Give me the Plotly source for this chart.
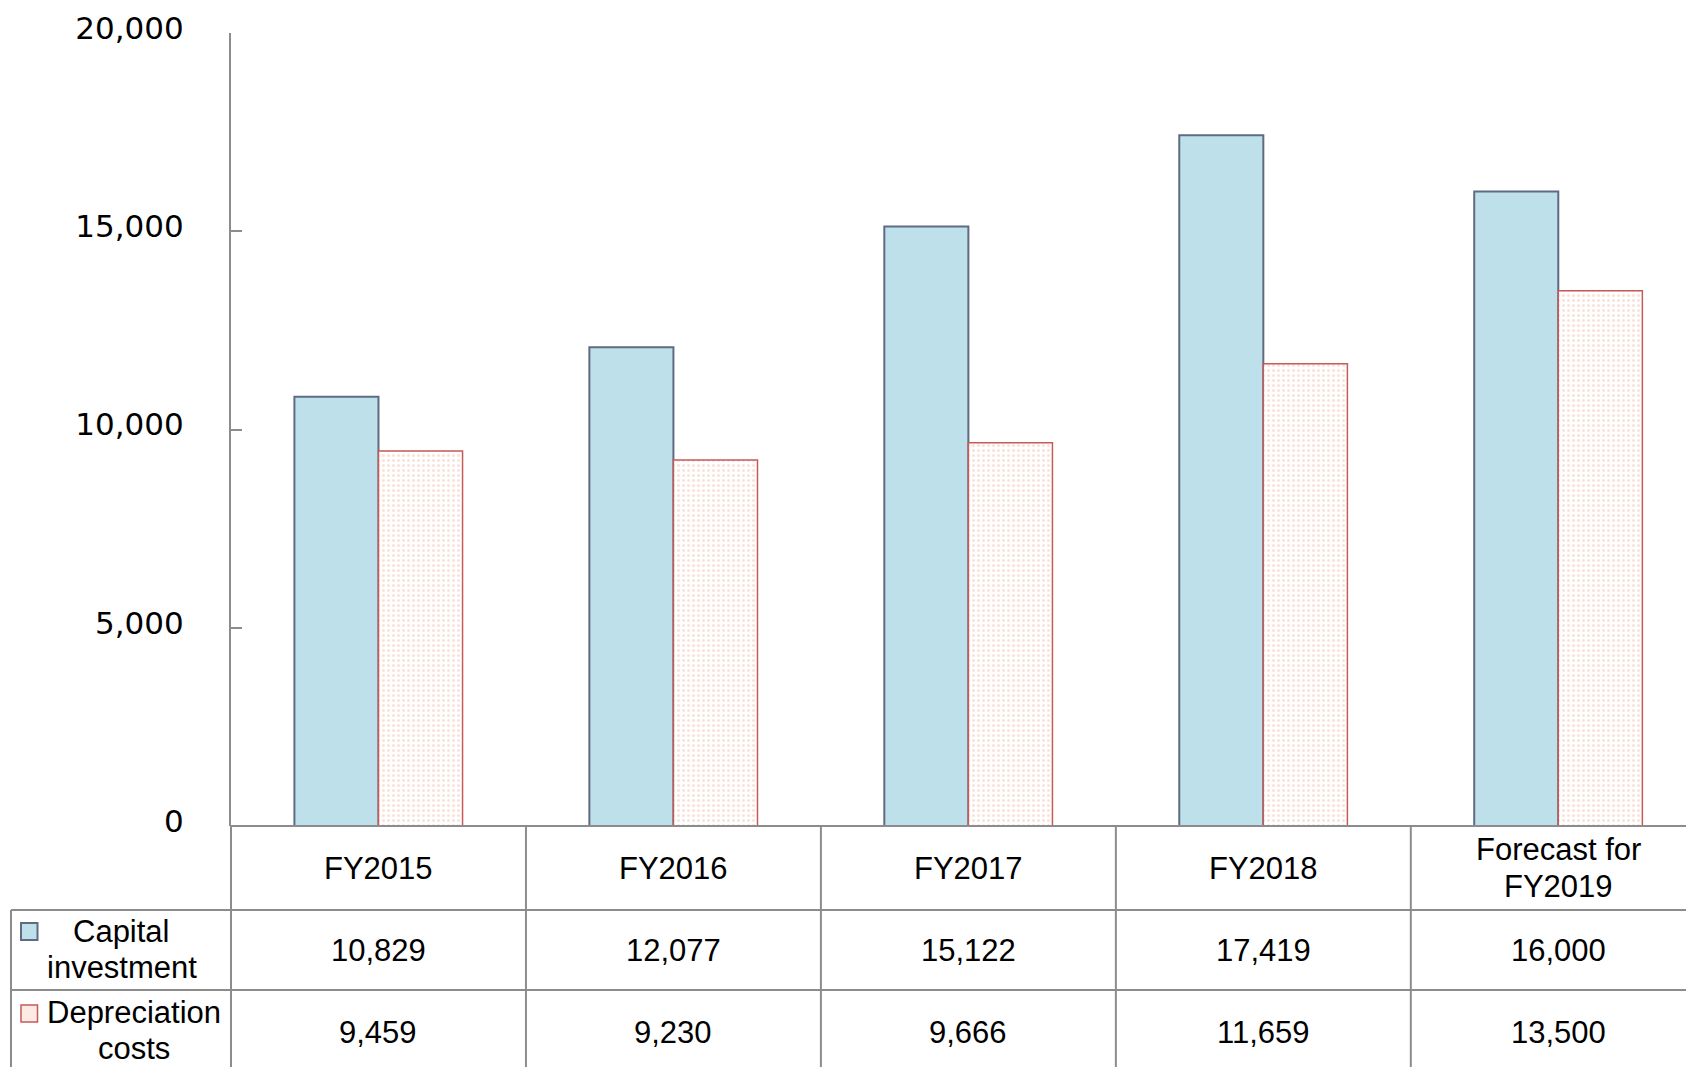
import plotly.graph_objects as go

# ---- data ----
categories = ["FY2015", "FY2016", "FY2017", "FY2018", "Forecast for FY2019"]
header_lines = [["FY2015"], ["FY2016"], ["FY2017"], ["FY2018"], ["Forecast for", "FY2019"]]
capital_investment = [10829, 12077, 15122, 17419, 16000]
depreciation_costs = [9459, 9230, 9666, 11659, 13500]
series_names = [["Capital", "investment"], ["Depreciation", "costs"]]
y_ticks = [0, 5000, 10000, 15000, 20000]

# ---- layout geometry (pixels) ----
W, H = 1686, 1067
L, R, T, B = 231, 0, 33, 241
PW, PH = W - L - R, H - T - B
XMIN, XMAX = -0.5, 4.433
GRID = "#8c8c8c"
TFONT = dict(family="Liberation Sans, Arial, sans-serif", size=31, color="black")

def px_x(px):
    return (px - L) / PW

def px_y(py):
    return (H - B - py) / PH

def xval_to_px(v):
    return L + (v - XMIN) / (XMAX - XMIN) * PW

fig = go.Figure()
fig.add_trace(go.Bar(
    x=categories, y=capital_investment, name=" ".join(series_names[0]),
    marker=dict(color="#BEE0EA", line=dict(color="#5F6B82", width=2)),
))
fig.add_trace(go.Bar(
    x=categories, y=depreciation_costs, name=" ".join(series_names[1]),
    marker=dict(color="white", line=dict(color="#C65A57", width=1.5),
                pattern=dict(shape=".", fgcolor="#F4C6B5", bgcolor="white", size=5, solidity=0.3)),
))

shapes = []
line_style = dict(color=GRID, width=2)
# horizontal table lines
row_lines = [(826, L), (910, 11), (990, 11)]
for py, x0 in row_lines:
    shapes.append(dict(type="line", xref="paper", yref="paper", x0=px_x(x0), x1=px_x(W),
                       y0=px_y(py), y1=px_y(py), line=line_style))
# vertical table lines
shapes.append(dict(type="line", xref="paper", yref="paper", x0=px_x(11), x1=px_x(11),
                   y0=px_y(910), y1=px_y(H + 5), line=line_style))
for i in range(len(categories)):
    bx = xval_to_px(i - 0.5)
    shapes.append(dict(type="line", xref="paper", yref="paper", x0=px_x(bx), x1=px_x(bx),
                       y0=px_y(826), y1=px_y(H + 5), line=line_style))

# legend symbols
shapes.append(dict(type="rect", xref="paper", yref="paper", x0=px_x(21), x1=px_x(37.5),
                   y0=px_y(923), y1=px_y(940), fillcolor="#BEE0EA", line=dict(color="#5F6B82", width=2)))
shapes.append(dict(type="rect", xref="paper", yref="paper", x0=px_x(21), x1=px_x(37.5),
                   y0=px_y(1005), y1=px_y(1022), fillcolor="#FCEBE5", line=dict(color="#C65A57", width=1.5)))

annotations = []
LINE_H = 36.5

def add_lines(lines, xref, x, cy):
    n = len(lines)
    for k, t in enumerate(lines):
        py = cy + (k - (n - 1) / 2) * LINE_H
        annotations.append(dict(text=t, xref=xref, yref="paper", x=x, y=px_y(py),
                                xanchor="center", yanchor="middle", showarrow=False, font=TFONT))

for i, c in enumerate(categories):
    add_lines(header_lines[i], "x", c, 868)
    add_lines([f"{capital_investment[i]:,}"], "x", c, 950)
    add_lines([f"{depreciation_costs[i]:,}"], "x", c, 1032)

add_lines(series_names[0], "paper", px_x(121.5), 949.5)
add_lines(series_names[1], "paper", px_x(134), 1030.5)

fig.update_layout(
    width=W, height=H,
    margin=dict(l=L, r=R, t=T, b=B, pad=0),
    plot_bgcolor="white", paper_bgcolor="white",
    barmode="group", bargap=0.43, bargroupgap=0,
    showlegend=False,
    shapes=shapes, annotations=annotations,
    xaxis=dict(range=[XMIN, XMAX], showticklabels=False, showline=False, ticks="",
               showgrid=False, zeroline=False, fixedrange=True),
    yaxis=dict(range=[0, 20000], tickvals=y_ticks, tickformat=",", ticks="inside", ticklen=11,
               tickwidth=2, tickcolor=GRID, showline=True, linecolor=GRID, linewidth=2,
               showgrid=False, zeroline=False, ticklabelstandoff=39, ticklabelshift=-5,
               tickfont=dict(family="DejaVu Sans, Verdana, sans-serif", size=31, color="black")),
)

fig.write_html(
    "out.html",
    config={"displayModeBar": False},
    post_script="document.body.style.margin='0';document.body.style.overflow='hidden';",
)
